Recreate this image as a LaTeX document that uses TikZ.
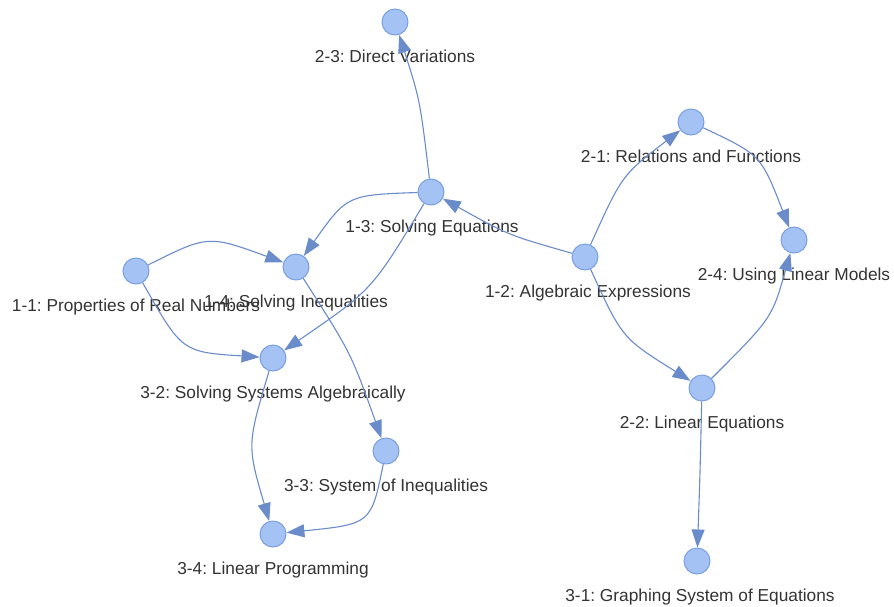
\documentclass[tikz,border=0pt]{standalone}
\usepackage{fontspec}
\setmainfont{Liberation Sans}
\usetikzlibrary{arrows.meta}
\definecolor{nodefill}{HTML}{A4C2F4}
\definecolor{nodeline}{HTML}{7A9FE0}
\definecolor{edgecol}{HTML}{6A8CCB}
\definecolor{txt}{HTML}{333333}
\frenchspacing
\begin{document}
\begin{tikzpicture}[x=1pt,y=-1pt,
 vtx/.style={circle,fill=nodefill,draw=nodeline,line width=1pt,minimum size=26pt,inner sep=0pt},
 lbl/.style={text=txt,font=\fontsize{17.3}{20}\selectfont\frenchspacing,inner sep=0pt,anchor=base},
 edge/.style={draw=edgecol,line width=1.1pt,-{Triangle[length=18pt,width=13pt]}}]
\useasboundingbox (0,0) rectangle (894,606);
% nodes
\node[vtx] (n23) at (395,22) {};
\node[vtx] (n13) at (431,192) {};
\node[vtx] (n21) at (691,122) {};
\node[vtx] (n24) at (794,240) {};
\node[vtx] (n12) at (585,257) {};
\node[vtx] (n11) at (136,271) {};
\node[vtx] (n14) at (296,267) {};
\node[vtx] (n32) at (273,358) {};
\node[vtx] (n33) at (386,451) {};
\node[vtx] (n34) at (273,534) {};
\node[vtx] (n22) at (702,388) {};
\node[vtx] (n31) at (697,561) {};
% labels
\node[lbl] (l23) at (395,62) {2-3: Direct Variations};
\node[lbl] (l13) at (432,232) {1-3: Solving Equations};
\node[lbl] (l21) at (691,162) {2-1: Relations and Functions};
\node[lbl] (l24) at (794,280) {2-4: Using Linear Models};
\node[lbl] (l12) at (588,297) {1-2: Algebraic Expressions};
\node[lbl] (l11) at (136,311) {1-1: Properties of Real Numbers};
\node[lbl] (l14) at (296,307) {1-4: Solving Inequalities};
\node[lbl] (l32) at (273,398) {3-2: Solving Systems Algebraically};
\node[lbl] (l33) at (386,491) {3-3: System of Inequalities};
\node[lbl] (l34) at (273,574) {3-4: Linear Programming};
\node[lbl] (l22) at (702,428) {2-2: Linear Equations};
\node[lbl] (l31) at (700,601) {3-1: Graphing System of Equations};
% edges
\draw[edge] (n13) .. controls (420,100) .. (n23);
\draw[edge] (n12) .. controls (508,235) .. (n13);
\draw[edge] (n12) .. controls (622,175) .. (n21);
\draw[edge] (n21) .. controls (761,155) .. (n24);
\draw[edge] (n12) .. controls (622,338) .. (n22);
\draw[edge] (n22) .. controls (772,318) .. (n24);
\draw[edge] (n22) .. controls (700,475) .. (n31);
\draw[edge] (n13) .. controls (347,195) .. (n14);
\draw[edge] (n13) .. controls (372,290) .. (n32);
\draw[edge] (n11) .. controls (208,235) .. (n14);
\draw[edge] (n11) .. controls (182,352) .. (n32);
\draw[edge] (n14) .. controls (351,353) .. (n33);
\draw[edge] (n32) .. controls (247,445) .. (n34);
\draw[edge] (n33) .. controls (371,524) .. (n34);
\end{tikzpicture}
\end{document}
